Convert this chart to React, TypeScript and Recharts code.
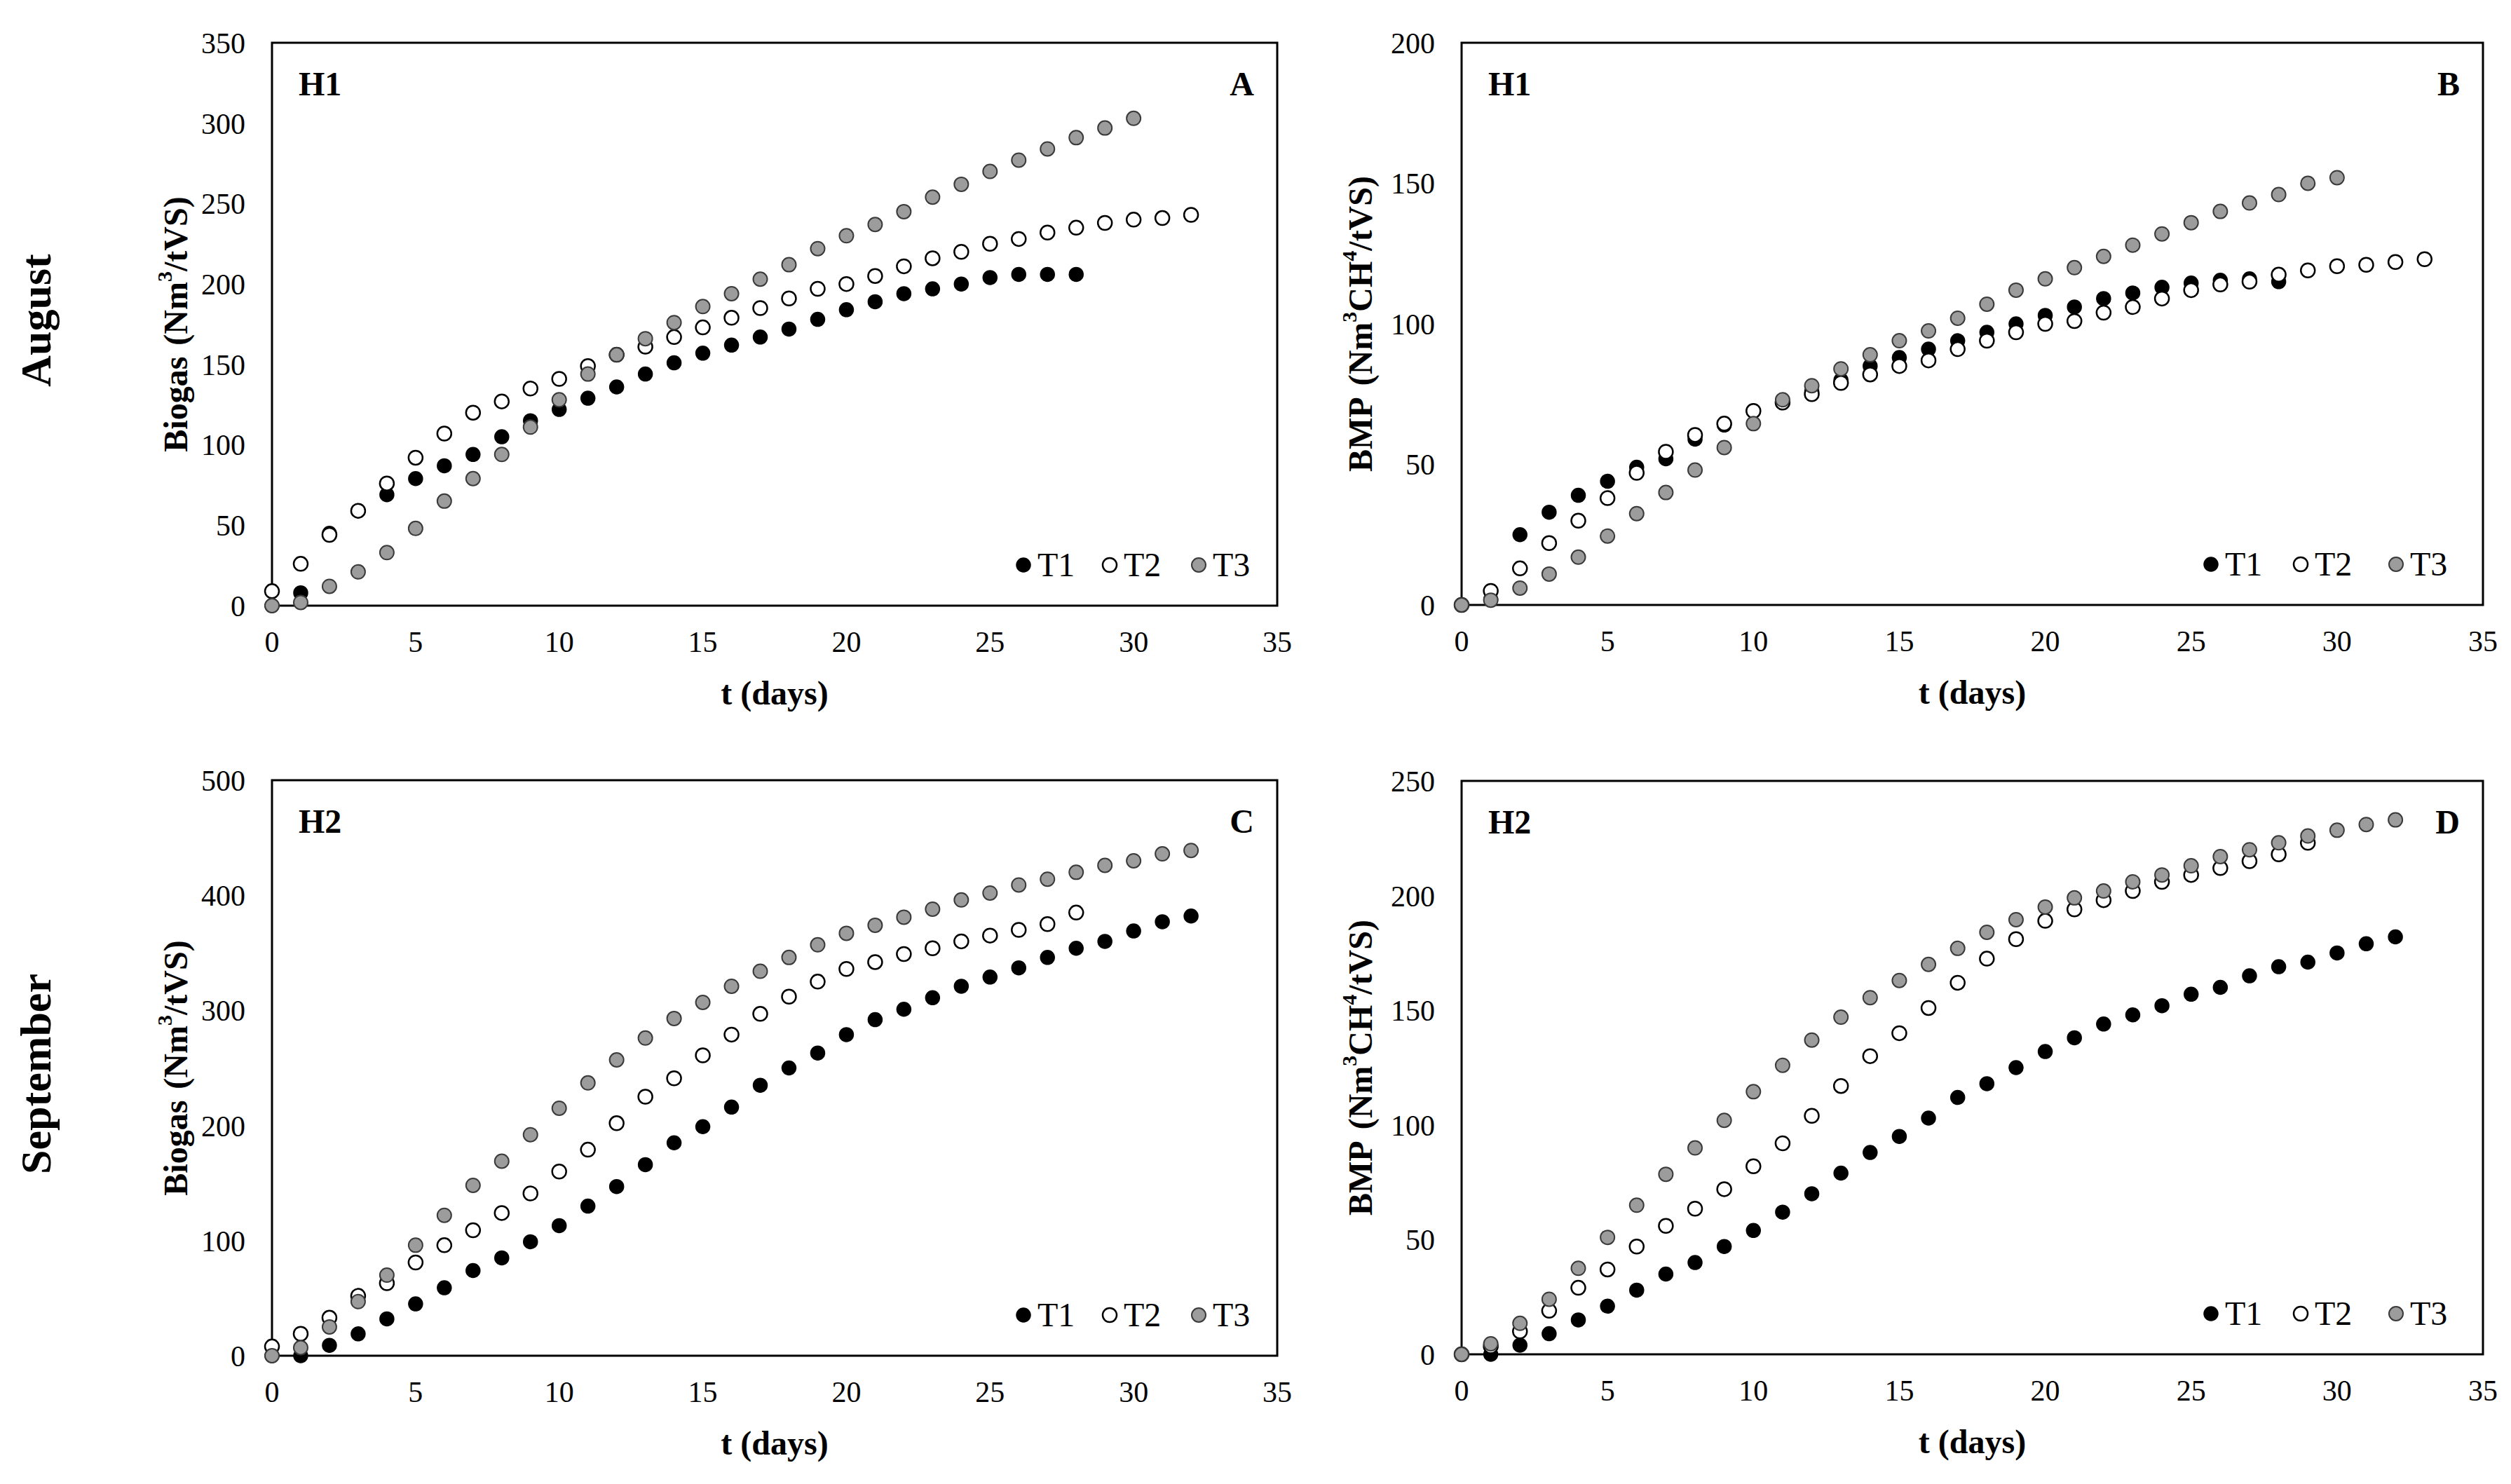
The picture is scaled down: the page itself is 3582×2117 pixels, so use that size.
import React from 'react'
import { ScatterChart, Scatter, XAxis, YAxis, ReferenceArea } from 'recharts'

// days since start of digestion
const days = [0, 1, 2, 3, 4, 5, 6, 7, 8, 9, 10, 11, 12, 13, 14, 15, 16, 17, 18, 19, 20, 21, 22, 23, 24, 25, 26, 27, 28, 29, 30, 31, 32, 33]
const xTicks = [0, 5, 10, 15, 20, 25, 30, 35]

// August (H1) - biogas, Nm3/tVS
const augBiogasT1 = [0, 8, 45, 59, 69, 79, 87, 94, 105, 115, 122, 129, 136, 144, 151, 157, 162, 167, 172, 178, 184, 189, 194, 197, 200, 204, 206, 206, 206]
const augBiogasT2 = [9, 26, 44, 59, 76, 92, 107, 120, 127, 135, 141, 149, 156, 161, 167, 173, 179, 185, 191, 197, 200, 205, 211, 216, 220, 225, 228, 232, 235, 238, 240, 241, 243]
const augBiogasT3 = [0, 2, 12, 21, 33, 48, 65, 79, 94, 111, 128, 144, 156, 166, 176, 186, 194, 203, 212, 222, 230, 237, 245, 254, 262, 270, 277, 284, 291, 297, 303]

// August (H1) - BMP, Nm3CH4/tVS
const augBmpT1 = [0, 2, 25, 33, 39, 44, 49, 52, 59, 64, 69, 72, 76, 80, 85, 88, 91, 94, 97, 100, 103, 106, 109, 111, 113, 114.5, 115.5, 116, 115]
const augBmpT2 = [0, 5, 13, 22, 30, 38, 47, 54.5, 60.5, 64.5, 69, 72, 75, 79, 82, 85, 87, 91, 94, 97, 100, 101, 104, 106, 109, 112, 114, 115, 117.5, 119, 120.5, 121, 122, 123]
const augBmpT3 = [0, 1.7, 6, 11, 17, 24.5, 32.5, 40, 48, 56, 64.5, 73, 78, 84, 89, 94, 97.5, 102, 107, 112, 116, 120, 124, 128, 132, 136, 140, 143, 146, 150, 152]

// September (H2) - biogas
const sepBiogasT1 = [0, 0, 9, 19, 32, 45, 59, 74, 85, 99, 113, 130, 147, 166, 185, 199, 216, 235, 250, 263, 279, 292, 301, 311, 321, 329, 337, 346, 354, 360, 369, 377, 382]
const sepBiogasT2 = [8, 19, 33, 52, 63, 81, 96, 109, 124, 141, 160, 179, 202, 225, 241, 261, 279, 297, 312, 325, 336, 342, 349, 354, 360, 365, 370, 375, 385]
const sepBiogasT3 = [0, 7, 25, 47, 70, 96, 122, 148, 169, 192, 215, 237, 257, 276, 293, 307, 321, 334, 346, 357, 367, 374, 381, 388, 396, 402, 409, 414, 420, 426, 430, 436, 439]

// September (H2) - BMP
const sepBmpT1 = [0, 0, 4, 9, 15, 21, 28, 35, 40, 47, 54, 62, 70, 79, 88, 95, 103, 112, 118, 125, 132, 138, 144, 148, 152, 157, 160, 165, 169, 171, 175, 179, 182]
const sepBmpT2 = [0, 3.5, 10, 19, 29, 37, 47, 56, 63.5, 72, 82, 92, 104, 117, 130, 140, 151, 162, 172.5, 181, 189, 194, 198, 202, 206, 209, 212, 215, 218, 223]
const sepBmpT3 = [0, 4.6, 13.5, 24, 37.5, 51, 65, 78.5, 90, 102, 114.5, 126, 137, 147, 155.5, 163, 170, 177, 184, 189.5, 195, 199, 202, 206, 209, 213, 217, 220, 223, 226, 228.5, 231, 233]

const seriesNames = ['T1', 'T2', 'T3']

const FONT = '"Liberation Serif", "Times New Roman", serif'
const markerStyles = [
  { fill: '#000000', stroke: '#000000', strokeWidth: 1.5 },
  { fill: '#ffffff', stroke: '#000000', strokeWidth: 2.5 },
  { fill: '#9c9c9c', stroke: '#3a3a3a', strokeWidth: 2 },
]

const toPoints = (vals: number[]) => vals.map((v, i) => ({ t: days[i], v }))

interface PanelProps {
  plot: { l: number; t: number; r: number; b: number }
  yMax: number
  yTicks: number[]
  series: number[][]
}

const Y_AXIS_W = 100
const X_AXIS_H = 60
const PAD_L = 300
const PAD_R = 60
const PAD_T = 60
const PAD_B = 120

const Panel: React.FC<PanelProps> = ({ plot, yMax, yTicks, series }) => {
  const width = plot.r - plot.l + PAD_L + PAD_R
  const height = plot.b - plot.t + PAD_T + PAD_B
  const tickStyle = { fill: '#000', fontSize: 42, fontFamily: FONT }
  return (
    <div style={{ position: 'absolute', left: plot.l - PAD_L, top: plot.t - PAD_T, width, height }}>
      <ScatterChart
        width={width}
        height={height}
        margin={{ left: PAD_L - Y_AXIS_W, right: PAD_R, top: PAD_T, bottom: PAD_B - X_AXIS_H }}
      >
        <XAxis
          type="number"
          dataKey="t"
          domain={[0, 35]}
          ticks={xTicks}
          axisLine={false}
          tickLine={false}
          tickMargin={30}
          height={X_AXIS_H}
          tick={tickStyle}
        />
        <YAxis
          type="number"
          dataKey="v"
          domain={[0, yMax]}
          ticks={yTicks}
          axisLine={false}
          tickLine={false}
          tickMargin={32}
          width={Y_AXIS_W}
          tick={tickStyle}
        />
        <ReferenceArea x1={0} x2={35} y1={0} y2={yMax} fill="none" fillOpacity={0} stroke="#000" strokeWidth={3} />
        {series.map((vals, k) => (
          <Scatter
            key={seriesNames[k]}
            name={seriesNames[k]}
            data={toPoints(vals)}
            isAnimationActive={false}
            shape={(p: any) => <circle cx={p.cx} cy={p.cy} r={10} {...markerStyles[k]} />}
          />
        ))}
      </ScatterChart>
    </div>
  )
}

const panels = [
  { id: 'A', tag: 'H1', plot: { l: 388, t: 61, r: 1822, b: 864 }, yMax: 350, yTicks: [0, 50, 100, 150, 200, 250, 300, 350], series: [augBiogasT1, augBiogasT2, augBiogasT3], yTitle: 'biogas', legend: [362, 239, 112], yTitleX: 250 },
  { id: 'B', tag: 'H1', plot: { l: 2085, t: 61, r: 3542, b: 863 }, yMax: 200, yTicks: [0, 50, 100, 150, 200], series: [augBmpT1, augBmpT2, augBmpT3], yTitle: 'bmp', legend: [388, 260, 124], yTitleX: 1940 },
  { id: 'C', tag: 'H2', plot: { l: 388, t: 1113, r: 1822, b: 1934 }, yMax: 500, yTicks: [0, 100, 200, 300, 400, 500], series: [sepBiogasT1, sepBiogasT2, sepBiogasT3], yTitle: 'biogas', legend: [362, 239, 112], yTitleX: 250 },
  { id: 'D', tag: 'H2', plot: { l: 2085, t: 1114, r: 3542, b: 1932 }, yMax: 250, yTicks: [0, 50, 100, 150, 200, 250], series: [sepBmpT1, sepBmpT2, sepBmpT3], yTitle: 'bmp', legend: [388, 260, 124], yTitleX: 1940 },
]

const YTitle: React.FC<{ kind: string; x: number; y: number }> = ({ kind, x, y }) => (
  <text
    transform={`translate(${x},${y}) rotate(-90)`}
    textAnchor="middle"
    dominantBaseline="central"
    fontFamily={FONT}
    fontWeight="bold"
    fontSize={48}
  >
    {kind === 'biogas' ? (
      <>
        <tspan>Biogas</tspan>
        <tspan dx={16}>(Nm</tspan>
        <tspan dy={-16} fontSize={30}>3</tspan>
        <tspan dy={16}>/tVS)</tspan>
      </>
    ) : (
      <>
        <tspan>BMP</tspan>
        <tspan dx={16}>(Nm</tspan>
        <tspan dy={-16} fontSize={30}>3</tspan>
        <tspan dy={16}>CH</tspan>
        <tspan dy={-16} fontSize={30}>4</tspan>
        <tspan dy={16}>/tVS)</tspan>
      </>
    )}
  </text>
)

const App: React.FC = () => {
  return (
    <div style={{ position: 'absolute', left: 0, top: 0, width: 3582, height: 2117, background: '#fff', overflow: 'hidden' }}>
      {panels.map((p) => (
        <Panel key={p.id} plot={p.plot} yMax={p.yMax} yTicks={p.yTicks} series={p.series} />
      ))}
      <svg width={3582} height={2117} style={{ position: 'absolute', left: 0, top: 0, pointerEvents: 'none' }}>
        <text transform="translate(51,457) rotate(-90)" textAnchor="middle" dominantBaseline="central" fontFamily={FONT} fontWeight="bold" fontSize={62}>
          August
        </text>
        <text transform="translate(51,1532) rotate(-90)" textAnchor="middle" dominantBaseline="central" fontFamily={FONT} fontWeight="bold" fontSize={62}>
          September
        </text>
        {panels.map((p) => {
          const { l, t, r, b } = p.plot
          return (
            <g key={p.id}>
              <text x={l + 38} y={t + 75} fontFamily={FONT} fontWeight="bold" fontSize={48}>
                {p.tag}
              </text>
              <text x={r - 33} y={t + 75} textAnchor="end" fontFamily={FONT} fontWeight="bold" fontSize={48}>
                {p.id}
              </text>
              <YTitle kind={p.yTitle} x={p.yTitleX} y={(t + b) / 2} />
              <text x={(l + r) / 2} y={b + 124} textAnchor="middle" dominantBaseline="central" fontFamily={FONT} fontWeight="bold" fontSize={48}>
                t (days)
              </text>
              {seriesNames.map((name, k) => (
                <g key={name}>
                  <circle cx={r - p.legend[k]} cy={b - 58} r={10} {...markerStyles[k]} />
                  <text x={r - p.legend[k] + 20} y={b - 42} fontFamily={FONT} fontSize={48}>
                    {name}
                  </text>
                </g>
              ))}
            </g>
          )
        })}
      </svg>
    </div>
  )
}

export default App
